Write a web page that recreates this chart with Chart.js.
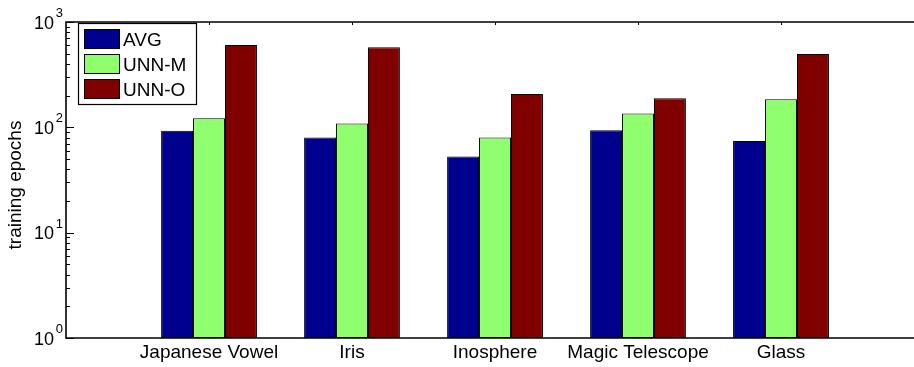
<!DOCTYPE html>
<html>
<head>
<meta charset="utf-8">
<script src="https://cdn.jsdelivr.net/npm/chart.js@4"></script>
<style>
  html, body { margin: 0; padding: 0; background: #fff; }
  #wrap { width: 914px; height: 367px; }
</style>
</head>
<body>
<div id="wrap"><canvas id="c"></canvas></div>
<script>
// datos (eje y logarítmico)
const categories = ["Japanese Vowel", "Iris", "Inosphere", "Magic Telescope", "Glass"];
const avg  = [93, 80, 53, 94, 74];
const unnM = [122, 109, 80, 135, 185];
const unnO = [605, 575, 207, 189, 497];
const seriesNames = ["AVG", "UNN-M", "UNN-O"];
const seriesColors = ["#00008f", "#8fff70", "#800000"];
const yTicks = [1, 10, 100, 1000];

const FONT = "'Liberation Sans', Arial, sans-serif";

function toPoints(arr) { return arr.map((v, i) => ({ x: i + 1, y: v })); }

// marco, ticks interiores, etiquetas 10^n, título y leyenda
const matlabAxes = {
  id: "matlabAxes",
  afterDraw(chart) {
    const { ctx, chartArea: a, scales: { x, y } } = chart;
    ctx.save();
    ctx.strokeStyle = "#000";
    ctx.lineWidth = 1;

    // ticks menores / mayores en el eje y (hacia dentro)
    ctx.beginPath();
    for (let d = 1; d < 1000; d *= 10) {
      for (let m = 2; m <= 9; m++) {
        const py = Math.round(y.getPixelForValue(d * m)) + 0.5;
        ctx.moveTo(a.left, py); ctx.lineTo(a.left + 4, py);
      }
    }
    yTicks.forEach(v => {
      const py = Math.round(y.getPixelForValue(v)) + 0.5;
      ctx.moveTo(a.left, py); ctx.lineTo(a.left + 8, py);
    });
    // ticks de categorías en el borde superior
    categories.forEach((_, i) => {
      const px = Math.round(x.getPixelForValue(i + 1)) + 0.5;
      ctx.moveTo(px, a.top); ctx.lineTo(px, a.top + 3);
    });
    ctx.stroke();

    // marco
    ctx.lineWidth = 1.6;
    ctx.beginPath();
    ctx.moveTo(a.right + 2, a.top); ctx.lineTo(a.left, a.top);
    ctx.lineTo(a.left, a.bottom); ctx.lineTo(a.right + 2, a.bottom);
    ctx.stroke();

    // etiquetas 10^n
    ctx.fillStyle = "#000";
    ctx.textAlign = "right";
    ctx.textBaseline = "alphabetic";
    yTicks.forEach(v => {
      const py = y.getPixelForValue(v);
      ctx.font = `18px ${FONT}`;
      ctx.fillText("10", a.left - 12, py + 6.5);
      ctx.font = `13px ${FONT}`;
      ctx.fillText(String(Math.round(Math.log10(v))), a.left - 3, py - 5);
    });

    // título eje y
    ctx.save();
    ctx.translate(21, (a.top + a.bottom) / 2 + 5);
    ctx.rotate(-Math.PI / 2);
    ctx.textAlign = "center";
    ctx.font = `19px ${FONT}`;
    ctx.fillText("training epochs", 0, 0);
    ctx.restore();

    // leyenda dentro del área
    const lx = a.left + 12, ly = a.top + 1, lw = 118, lh = 81;
    ctx.fillStyle = "#fff";
    ctx.fillRect(lx, ly, lw, lh);
    ctx.lineWidth = 1.2;
    ctx.strokeRect(lx + 0.5, ly + 0.5, lw, lh);
    chart.data.datasets.forEach((ds, i) => {
      const sy = ly + 6 + i * 25;
      ctx.fillStyle = ds.backgroundColor;
      ctx.fillRect(lx + 6, sy, 35, 19);
      ctx.lineWidth = 1;
      ctx.strokeRect(lx + 6.5, sy + 0.5, 35, 19);
      ctx.fillStyle = "#000";
      ctx.textAlign = "left";
      ctx.font = `19px ${FONT}`;
      ctx.fillText(ds.label, lx + 45, sy + 17);
    });
    ctx.restore();
  }
};

new Chart(document.getElementById("c"), {
  type: "bar",
  data: {
    datasets: [avg, unnM, unnO].map((arr, i) => ({
      label: seriesNames[i],
      data: toPoints(arr),
      backgroundColor: seriesColors[i],
      borderColor: "#000",
      borderWidth: 1,
      borderSkipped: false,
      categoryPercentage: 0.67,
      barPercentage: 1.0
    }))
  },
  options: {
    responsive: true,
    maintainAspectRatio: false,
    animation: false,
    layout: { padding: { left: 66, right: 0, top: 22, bottom: 0 } },
    plugins: { legend: { display: false }, tooltip: { enabled: false } },
    scales: {
      x: {
        type: "linear",
        min: 0,
        max: 5.93,
        offset: false,
        grid: { display: false, drawTicks: false },
        border: { display: false },
        afterBuildTicks: s => { s.ticks = categories.map((_, i) => ({ value: i + 1 })); },
        afterFit: s => { s.height = 29; },
        ticks: {
          autoSkip: false,
          maxRotation: 0,
          padding: 3,
          color: "#000",
          font: { family: FONT, size: 19 },
          callback: v => categories[v - 1] ?? ""
        }
      },
      y: {
        type: "logarithmic",
        min: 1,
        max: 1000,
        display: false
      }
    }
  },
  plugins: [matlabAxes]
});
</script>
</body>
</html>
